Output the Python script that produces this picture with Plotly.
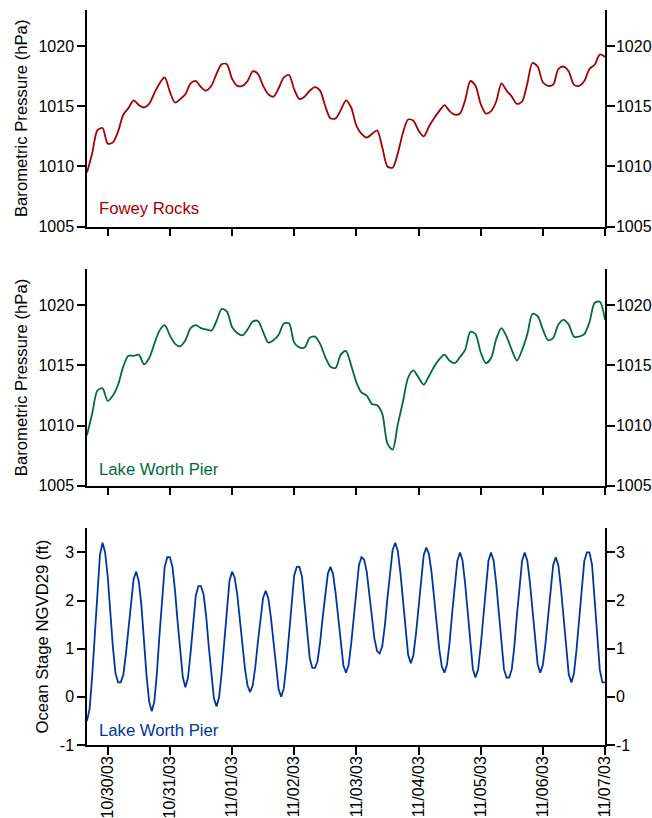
import pandas as pd
import plotly.graph_objects as go

# ---------------- data ----------------
start_time = "2003-10-29 16:00"
press_times = pd.date_range(start_time, periods=101, freq="2h")
tide_times = pd.date_range(start_time, periods=201, freq="1h")

fowey_rocks = [
    1009.5, 1011.1, 1013.0, 1013.2, 1011.9, 1012.0, 1012.9, 1014.3, 1014.85, 1015.5,
    1015.1, 1014.9, 1015.2, 1016.1, 1016.9, 1017.4, 1016.2, 1015.3, 1015.6, 1016.0,
    1016.9, 1017.1, 1016.6, 1016.3, 1016.7, 1017.7, 1018.5, 1018.5, 1017.3, 1016.7,
    1016.7, 1017.1, 1017.9, 1017.7, 1016.7, 1016.0, 1015.8, 1016.5, 1017.4, 1017.6,
    1016.4, 1015.6, 1015.8, 1016.3, 1016.6, 1016.3, 1015.0, 1014.0, 1014.0, 1014.7,
    1015.5, 1014.9, 1013.4, 1012.7, 1012.4, 1012.7, 1013.0, 1011.6, 1010.0, 1009.9,
    1011.1, 1012.8, 1013.9, 1013.8, 1013.0, 1012.5, 1013.3, 1014.0, 1014.6, 1015.1,
    1014.6, 1014.3, 1014.4, 1015.5, 1017.1, 1016.7, 1015.2, 1014.4, 1014.6, 1015.4,
    1016.9, 1016.3, 1015.8, 1015.2, 1015.4, 1016.9, 1018.6, 1018.3, 1017.0, 1016.7,
    1016.8, 1018.1, 1018.3, 1017.9, 1016.8, 1016.7, 1017.1, 1018.1, 1018.45, 1019.3,
    1019.1,
]

lake_worth_pressure = [
    1009.2, 1011.0, 1012.9, 1013.1, 1012.05, 1012.5, 1013.4, 1014.9, 1015.8, 1015.8,
    1015.9, 1015.1, 1015.6, 1016.8, 1017.9, 1018.35, 1017.5, 1016.8, 1016.6, 1017.1,
    1018.1, 1018.35, 1018.1, 1018.0, 1017.9, 1018.7, 1019.7, 1019.5, 1018.2, 1017.7,
    1017.5, 1018.0, 1018.65, 1018.7, 1017.8, 1016.9, 1017.1, 1017.55, 1018.5, 1018.5,
    1016.9, 1016.5, 1016.5, 1017.3, 1017.4, 1016.8, 1015.7, 1014.9, 1014.8, 1015.9,
    1016.2, 1015.0, 1013.6, 1012.75, 1012.5, 1011.8, 1011.7, 1011.0, 1008.5, 1008.0,
    1010.1, 1012.0, 1014.0, 1014.6, 1014.0, 1013.4, 1014.1, 1014.9, 1015.5, 1015.9,
    1015.4, 1015.2, 1015.7, 1016.3, 1017.8, 1017.6, 1016.1, 1015.2, 1015.6, 1017.2,
    1018.1, 1017.4, 1016.3, 1015.4, 1016.3, 1017.6, 1019.3, 1019.1, 1018.0, 1017.1,
    1017.3, 1018.4, 1018.8, 1018.4, 1017.4, 1017.4, 1017.6, 1018.6, 1020.2, 1020.3,
    1018.8,
]

ocean_stage = [
    -0.5, -0.25, 0.43, 1.35, 2.28, 2.95, 3.2, 3.0, 2.5, 1.75,
    1.03, 0.49, 0.3, 0.3, 0.45, 0.88, 1.45, 2.03, 2.45, 2.6,
    2.4, 1.9, 1.15, 0.43, -0.1, -0.3, -0.1, 0.5, 1.3, 2.1,
    2.7, 2.9, 2.9, 2.7, 2.2, 1.55, 0.9, 0.4, 0.2, 0.4,
    0.92, 1.58, 2.1, 2.3, 2.3, 2.13, 1.68, 1.05, 0.43, -0.03,
    -0.2, -0.01, 0.5, 1.2, 1.9, 2.41, 2.6, 2.48, 2.13, 1.63,
    1.08, 0.58, 0.23, 0.1, 0.24, 0.63, 1.15, 1.68, 2.06, 2.2,
    2.05, 1.65, 1.1, 0.55, 0.15, 0.0, 0.18, 0.68, 1.35, 2.03,
    2.52, 2.7, 2.7, 2.5, 1.98, 1.33, 0.8, 0.6, 0.6, 0.74,
    1.13, 1.65, 2.18, 2.56, 2.7, 2.55, 2.15, 1.6, 1.05, 0.65,
    0.5, 0.66, 1.1, 1.7, 2.3, 2.74, 2.9, 2.85, 2.6, 2.15,
    1.65, 1.2, 0.95, 0.9, 1.05, 1.48, 2.05, 2.63, 3.05, 3.2,
    3.03, 2.58, 1.95, 1.33, 0.87, 0.7, 0.86, 1.3, 1.9, 2.5,
    2.94, 3.1, 2.97, 2.6, 2.09, 1.51, 0.99, 0.63, 0.5, 0.67,
    1.13, 1.75, 2.38, 2.83, 3.0, 2.83, 2.35, 1.7, 1.05, 0.57,
    0.4, 0.57, 1.05, 1.7, 2.35, 2.83, 3.0, 2.83, 2.35, 1.7,
    1.05, 0.57, 0.4, 0.4, 0.57, 1.05, 1.7, 2.35, 2.83, 3.0,
    2.83, 2.38, 1.75, 1.13, 0.67, 0.5, 0.66, 1.1, 1.7, 2.3,
    2.74, 2.9, 2.73, 2.25, 1.6, 0.95, 0.47, 0.3, 0.48, 0.98,
    1.65, 2.33, 2.82, 3.0, 3.0, 2.74, 2.07, 1.23, 0.56, 0.3,
    0.3,
]

x_tick_dates = pd.date_range("2003-10-30", "2003-11-07", freq="1D")
x_range = ["2003-10-29 16:00", "2003-11-07 00:00"]
press_ticks = [1005, 1010, 1015, 1020]
press_ticktext = ["1005", "1010", "1015", "1020"]
stage_ticks = [-1, 0, 1, 2, 3]
stage_ticktext = ["-1", "0", "1", "2", "3"]
press_title = "Barometric Pressure (hPa)"
stage_title = "Ocean Stage NGVD29 (ft)"
labels = ["Fowey Rocks", "Lake Worth Pier", "Lake Worth Pier"]

RED = "#A50000"
GREEN = "#006B3A"
BLUE = "#0035A0"

FONT = "Liberation Sans, Arial, sans-serif"
FS = 16
FS_T = 16.7

fig = go.Figure()

fig.add_trace(go.Scatter(x=press_times, y=fowey_rocks, mode="lines",
                         line=dict(color=RED, width=1.8, shape="spline", smoothing=0.8),
                         xaxis="x", yaxis="y"))
fig.add_trace(go.Scatter(x=press_times, y=lake_worth_pressure, mode="lines",
                         line=dict(color=GREEN, width=1.8, shape="spline", smoothing=0.8),
                         xaxis="x2", yaxis="y2"))
fig.add_trace(go.Scatter(x=tide_times, y=ocean_stage, mode="lines",
                         line=dict(color=BLUE, width=1.8), xaxis="x3", yaxis="y3"))
# invisible traces for the right-side axes
for ya, xa, xs, yv in (("y4", "x", press_times, fowey_rocks),
                       ("y5", "x2", press_times, lake_worth_pressure),
                       ("y6", "x3", tide_times, ocean_stage)):
    fig.add_trace(go.Scatter(x=xs, y=yv, mode="lines",
                             line=dict(color="rgba(0,0,0,0)", width=0),
                             hoverinfo="skip", xaxis=xa, yaxis=ya))

domains = [[0.7052, 1.0], [0.3528, 0.6472], [0.0, 0.2948]]

axis_common = dict(showline=True, linecolor="black", linewidth=1.5,
                   ticks="outside", ticklen=8, tickwidth=1.5, tickcolor="black",
                   showgrid=False, zeroline=False, automargin=False,
                   tickfont=dict(family=FONT, size=FS, color="black"))

layout = dict(
    width=652, height=818,
    margin=dict(l=87, r=47, t=10, b=73),
    paper_bgcolor="white", plot_bgcolor="white",
    showlegend=False,
    font=dict(family=FONT, size=FS, color="black"),
)

for i in range(3):
    xn = "xaxis" if i == 0 else f"xaxis{i + 1}"
    yn = "yaxis" if i == 0 else f"yaxis{i + 1}"
    yr = f"yaxis{i + 4}"
    ya_id = "y" if i == 0 else f"y{i + 1}"
    x_id = "x" if i == 0 else f"x{i + 1}"
    layout[xn] = dict(axis_common, domain=[0, 1], anchor=ya_id, range=x_range,
                      type="date", tickvals=list(x_tick_dates),
                      ticktext=[d.strftime("%m/%d/%y") for d in x_tick_dates],
                      showticklabels=(i == 2), tickangle=-90, ticklabelstandoff=-5)
    if i > 0:
        layout[xn]["matches"] = "x"
    if i < 2:
        yrange, tv, tt, title = [1005, 1023], press_ticks, press_ticktext, press_title
    else:
        yrange, tv, tt, title = [-1, 3.5], stage_ticks, stage_ticktext, stage_title
    layout[yn] = dict(axis_common, domain=domains[i], anchor=x_id, range=yrange,
                      tickvals=tv, ticktext=tt,
                      title=dict(text=title, standoff=7,
                                 font=dict(family=FONT, size=FS_T, color="black")))
    layout[yr] = dict(axis_common, domain=domains[i], anchor=x_id, overlaying=ya_id,
                      side="right", range=yrange, tickvals=tv, ticktext=tt,
                      ticklabelstandoff=-2)

fig.update_layout(**layout)

ann_y = [208, 469, 730]
colors = [RED, GREEN, BLUE]
for lab, yy, col in zip(labels, ann_y, colors):
    fig.add_annotation(text=lab, xref="paper", yref="paper",
                       x=(97 - 87) / 518, y=1 - (yy - 10) / 735,
                       xanchor="left", yanchor="middle", showarrow=False,
                       font=dict(family=FONT, size=FS_T, color=col))

fig.write_html("out.html")
